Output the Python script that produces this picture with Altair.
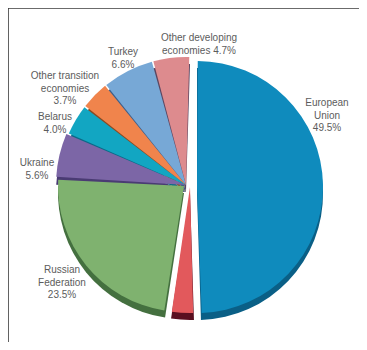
import altair as alt
import pandas as pd

segments = ["European Union", "Unlabelled", "Russian Federation", "Ukraine", "Belarus",
            "Other transition economies", "Turkey", "Other developing economies"]
shares = [49.5, 2.9, 23.5, 5.6, 4.0, 3.7, 6.6, 4.7]
face_colors = ["#0f8bbd", "#e2595c", "#7fb26f", "#7c66a6", "#12a6c2", "#f0844c", "#77a8d6", "#dd8b8e"]
side_colors = ["#0a5f86", "#5a0f20", "#44703f", "#4a3b73", "#0b6a88", "#8a4a22", "#3f5f8a", "#5b4660"]

label_texts = ["European\nUnion\n49.5%", "Russian\nFederation\n23.5%", "Ukraine\n5.6%", "Belarus\n4.0%",
               "Other transition\neconomies\n3.7%", "Turkey\n6.6%", "Other developing\neconomies 4.7%"]

# page position minus the 8px page margin
label_xy = [(319, 90), (54, 257), (29, 150), (47, 104), (57, 63), (115, 39), (191, 25)]
centers = [(189, 179), (182, 179), (176, 178), (178, 177), (178, 177), (178, 177), (178, 177), (178, 177)]
radii = [126, 126, 126, 130, 128, 128, 128, 128]
DEPTH = 7
FRAME = "#3a3a3a"

ends = pd.Series(shares).cumsum()
df = pd.DataFrame({"segment": segments, "share": shares, "start": ends - pd.Series(shares), "end": ends})
theta_scale = alt.Scale(domain=[0, 100], range=[0, 6.28319])

layers = []
# extruded side first, so it shows below and between the faces
for i, seg in enumerate(segments):
    cx, cy = centers[i]
    layers.append(
        alt.Chart(df).transform_filter(alt.datum.segment == seg)
        .mark_arc(outerRadius=radii[i], color=side_colors[i], x=cx, y=cy + DEPTH)
        .encode(theta=alt.Theta("start:Q", scale=theta_scale), theta2="end:Q")
    )
for i, seg in enumerate(segments):
    cx, cy = centers[i]
    layers.append(
        alt.Chart(df).transform_filter(alt.datum.segment == seg)
        .mark_arc(outerRadius=radii[i], color=face_colors[i], x=cx, y=cy, padAngle=0.012)
        .encode(theta=alt.Theta("start:Q", scale=theta_scale), theta2="end:Q")
    )

for text, (lx, ly) in zip(label_texts, label_xy):
    layers.append(
        alt.Chart(pd.DataFrame({"label": [text]}))
        .mark_text(x=lx, y=ly, align="center", baseline="top", lineBreak="\n", lineHeight=12.5,
                   font="Liberation Sans", fontSize=10, color="#5c5c5c")
        .encode(text="label:N")
    )

frame_row = pd.DataFrame({"a": [0]})
layers.append(alt.Chart(frame_row).mark_rule(color=FRAME, strokeWidth=1.6)
              .encode(x=alt.value(0), x2=alt.value(351), y=alt.value(0)))
layers.append(alt.Chart(frame_row).mark_rule(color=FRAME, strokeWidth=1.6)
              .encode(x=alt.value(0), y=alt.value(0), y2=alt.value(334)))

chart = (
    alt.layer(*layers)
    .resolve_scale(theta="independent")
    .properties(width=351, height=334, padding=0, autosize=alt.AutoSizeParams(type="none"),
                background="white")
    .configure_view(stroke=None)
)
chart.save("out.html", embed_options={"renderer": "svg", "actions": False})
